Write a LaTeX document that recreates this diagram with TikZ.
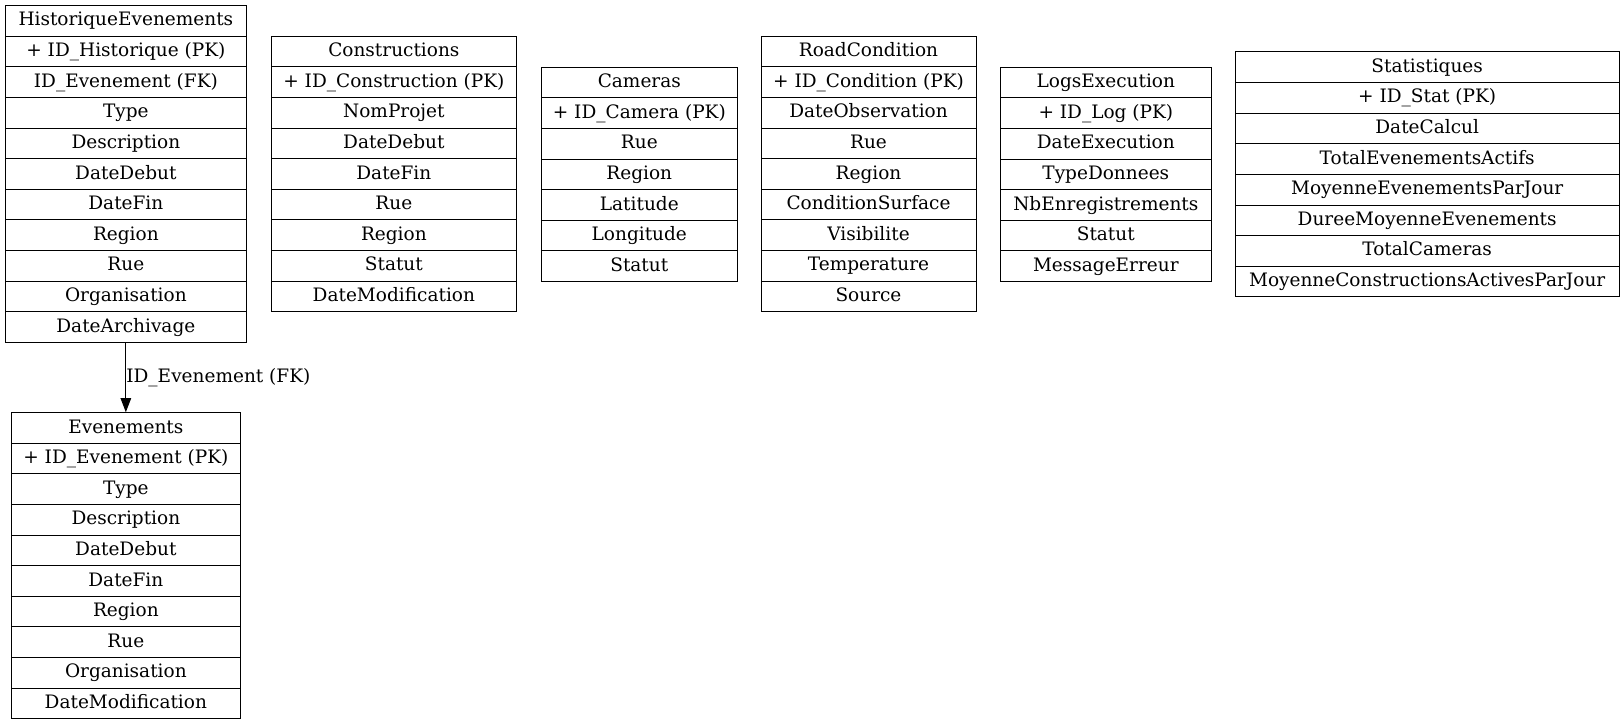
\documentclass[tikz,border=0pt]{standalone}
\usepackage{fontspec}
\setmainfont{DejaVu Serif}
\usetikzlibrary{arrows.meta}

\tikzset{
  cell/.style={draw=black, line width=1pt, inner sep=0pt,
    minimum height=30.6pt, text height=14pt, text depth=4pt,
    font=\fontsize{18.5}{21}\selectfont},
  fklink/.style={-{Triangle[length=14pt,width=10.5pt]}, line width=1pt},
  fklabel/.style={anchor=west, inner sep=0pt, font=\fontsize{18.5}{21}\selectfont},
}

% \ertable{name}{left}{right}{top}{rows}: one boxed cell per row
\newcommand{\ertable}[5]{%
  \pgfmathsetmacro\tw{#3-#2}%
  \pgfmathsetmacro\tcx{(#2+#3)/2}%
  \foreach \t [count=\i] in {#5} {
    \pgfmathsetmacro\tcy{#4+(\i-0.5)*30.6}
    \node[cell, minimum width=\tw pt] (#1-\i) at (\tcx,\tcy) {\t};
  }%
}

\begin{document}
\begin{tikzpicture}[x=1pt,y=-1pt]
\useasboundingbox (0,0) rectangle (1624,725);

\ertable{hist}{5}{246.7}{5.7}{HistoriqueEvenements,+ ID\_Historique (PK),ID\_Evenement (FK),Type,Description,DateDebut,DateFin,Region,Rue,Organisation,DateArchivage}

\ertable{constr}{271}{516.7}{36.3}{Constructions,+ ID\_Construction (PK),NomProjet,DateDebut,DateFin,Rue,Region,Statut,DateModification}

\ertable{cam}{541.3}{737.3}{67.3}{Cameras,+ ID\_Camera (PK),Rue,Region,Latitude,Longitude,Statut}

\ertable{road}{761}{976}{36.3}{RoadCondition,+ ID\_Condition (PK),DateObservation,Rue,Region,ConditionSurface,Visibilite,Temperature,Source}

\ertable{logs}{1000.3}{1211.3}{67.3}{LogsExecution,+ ID\_Log (PK),DateExecution,TypeDonnees,NbEnregistrements,Statut,MessageErreur}

\ertable{stats}{1235.3}{1619}{52}{Statistiques,+ ID\_Stat (PK),DateCalcul,TotalEvenementsActifs,MoyenneEvenementsParJour,DureeMoyenneEvenements,TotalCameras,MoyenneConstructionsActivesParJour}

\ertable{evt}{11}{240.7}{412.7}{Evenements,+ ID\_Evenement (PK),Type,Description,DateDebut,DateFin,Region,Rue,Organisation,DateModification}

\draw[fklink] (hist-11.south) -- node[fklabel, pos=0.5] {ID\_Evenement (FK)} (evt-1.north);
\end{tikzpicture}
\end{document}
